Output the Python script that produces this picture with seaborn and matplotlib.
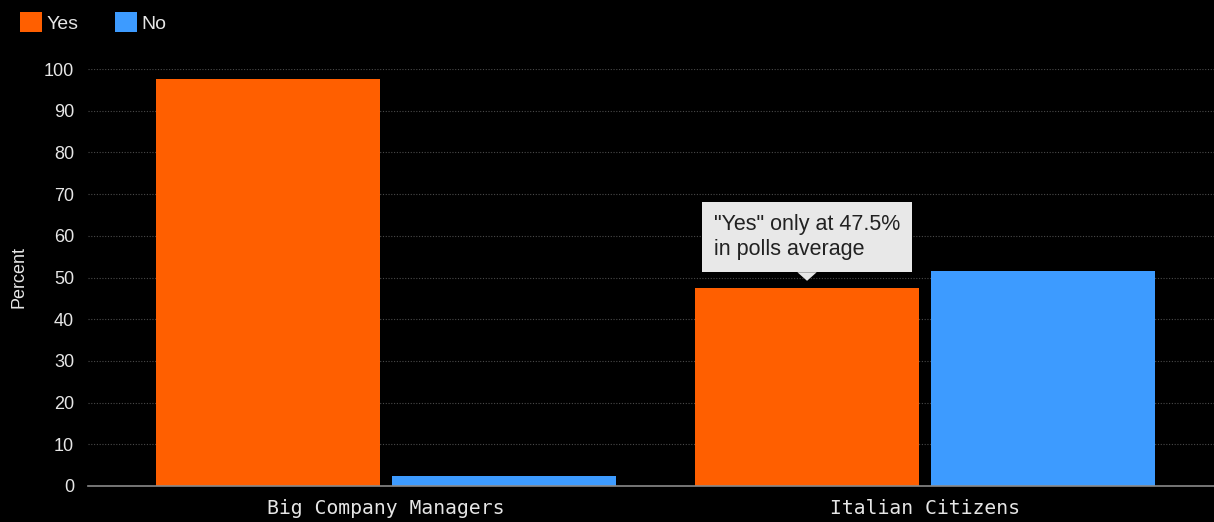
import matplotlib
matplotlib.use("Agg")
import matplotlib.pyplot as plt
from matplotlib.patches import Patch
import seaborn as sns
import pandas as pd

# Survey: support for the referendum
groups = ["Big Company Managers", "Italian Citizens"]
answers = ["Yes", "No"]
yes_pct = [97.5, 47.5]
no_pct = [2.5, 51.5]
y_ticks = list(range(0, 101, 10))
note_text = '"Yes" only at 47.5%\nin polls average'

colors = {"Yes": "#FF5F00", "No": "#3D9BFF"}
bg = "#000000"

df = pd.DataFrame({
    "group": groups * 2,
    "answer": ["Yes"] * len(groups) + ["No"] * len(groups),
    "pct": yes_pct + no_pct,
})

sns.set_theme(style="dark")
plt.rcParams["font.family"] = ["Liberation Sans", "DejaVu Sans"]

fig = plt.figure(figsize=(12.14, 5.22), dpi=100, facecolor=bg)
ax = fig.add_axes([88 / 1214, 1 - 486 / 522, 1 - 88 / 1214, 417 / 522])
ax.set_facecolor(bg)

sns.barplot(data=df, x="group", y="pct", hue="answer", order=groups,
            hue_order=answers, palette=colors, width=0.876, gap=0.05,
            saturation=1, legend=False, linewidth=0, ax=ax, zorder=3)

ax.set_xlim(-0.553, 1.536)
ax.set_ylim(0, 100)
ax.set_yticks(y_ticks)
ax.set_yticklabels([str(t) for t in y_ticks], color="#e6e6e6", fontsize=13)
ax.tick_params(axis="y", length=0, pad=10)
ax.tick_params(axis="x", length=5, color="#888888", width=1, pad=4)
for lbl in ax.get_xticklabels():
    lbl.set_family("DejaVu Sans Mono")
    lbl.set_fontsize(14.2)
    lbl.set_color("#e6e6e6")

for s in ["top", "right", "left"]:
    ax.spines[s].set_visible(False)
ax.spines["bottom"].set_color("#8a8a8a")
ax.spines["bottom"].set_linewidth(1.2)
ax.spines["bottom"].set_zorder(4)

ax.grid(False)
for t in y_ticks[1:]:
    ax.axhline(t, color="#4a4a4a", linestyle=(0, (1, 1.5)), linewidth=0.8, zorder=1)

ax.set_xlabel("")
ax.set_ylabel("Percent", color="#e6e6e6", fontsize=13, labelpad=12)

# Callout above the citizens' "Yes" bar
yes_bar = ax.patches[1]
cx = yes_bar.get_x() + yes_bar.get_width() / 2
top = yes_bar.get_height()
ax.annotate(note_text, xy=(cx, top + 1.7), xytext=(cx, top + 6.6),
            ha="center", va="bottom", multialignment="left",
            fontsize=15.5, color="#222222", linespacing=1.3,
            bbox=dict(boxstyle="square,pad=0.55", fc="#e8e8e8", ec="none"),
            arrowprops=dict(arrowstyle="wedge,tail_width=0.9,shrink_factor=0.5",
                            fc="#e8e8e8", ec="none", shrinkA=0, shrinkB=0),
            zorder=6)

handles = [Patch(facecolor=colors[a], edgecolor="none", label=a) for a in answers]
leg = fig.legend(handles=handles, loc="upper left", bbox_to_anchor=(0.002, 1.01),
                 ncol=2, frameon=False, handlelength=1.15, handleheight=1.15,
                 handletextpad=0.2, columnspacing=1.9, fontsize=14)
for txt in leg.get_texts():
    txt.set_color("#e6e6e6")

fig.savefig("out.png", dpi=100, facecolor=bg)
